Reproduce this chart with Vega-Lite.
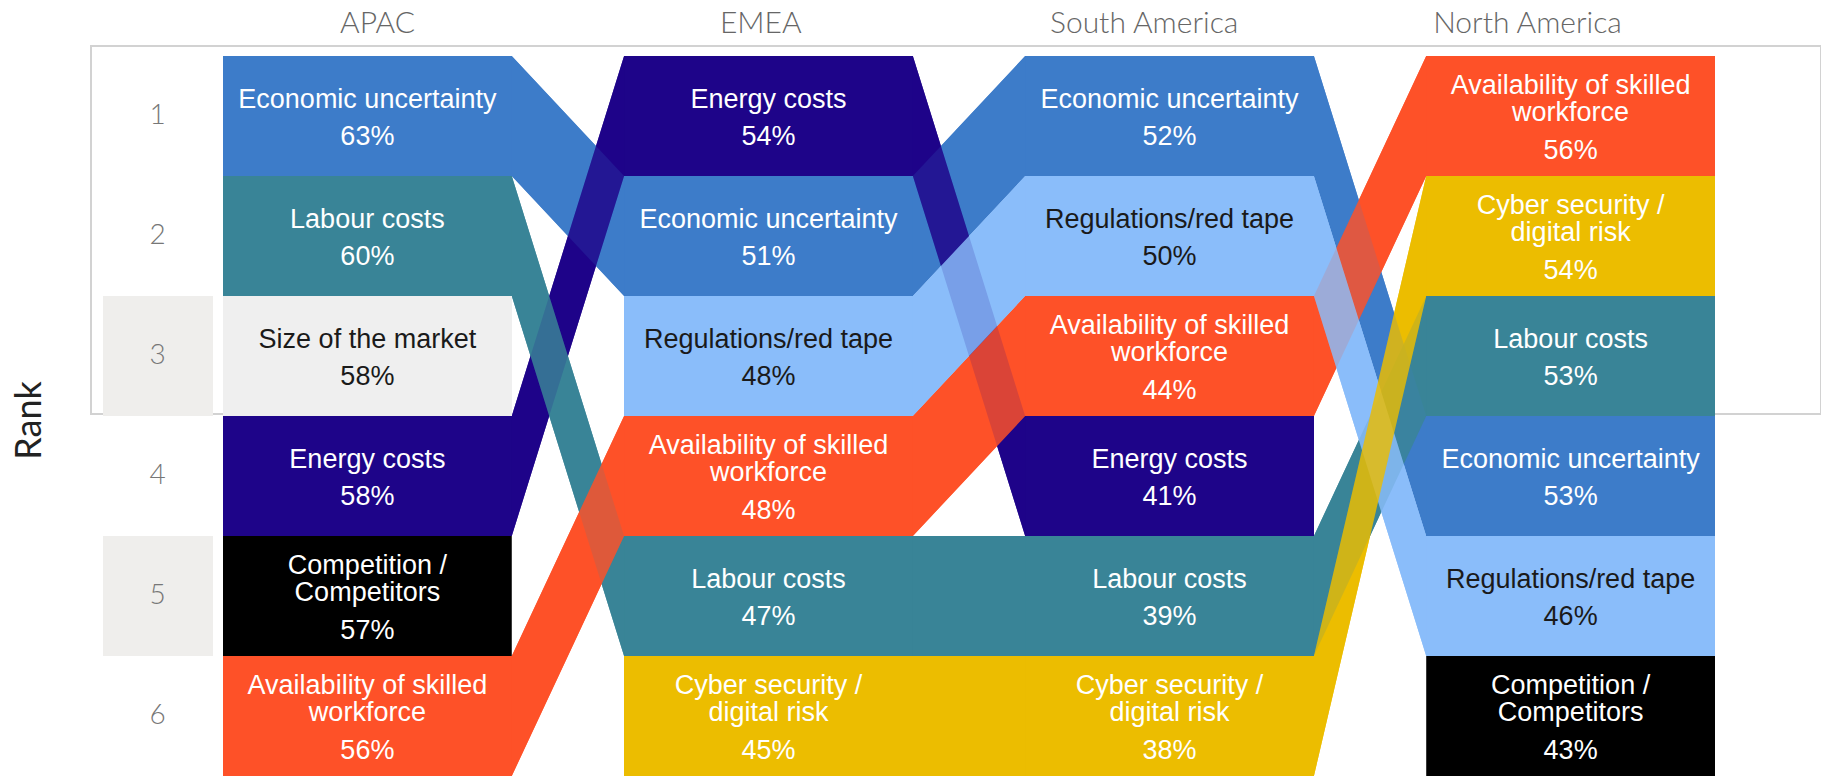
{
  "$schema": "https://vega.github.io/schema/vega-lite/v6.json",
  "width": 1730,
  "height": 368,
  "autosize": {"type": "none"},
  "padding": {"left": 91, "top": 46, "right": 0, "bottom": 362},
  "background": "#ffffff",
  "config": {
    "view": {"stroke": "#d2d2d2", "strokeWidth": 2},
    "axisY": {
      "offset": -66, "domain": false, "ticks": false, "tickSize": 0, "grid": false,
      "labelPadding": 0, "labelAlign": "center", "labelBaseline": "middle",
      "labelFont": "Lato", "labelFontWeight": 300, "labelFontSize": 28, "labelColor": "#777777",
      "titleFont": "Lato", "titleFontSize": 36, "titleFontWeight": "normal", "titleColor": "#222222",
      "titleX": -128, "titleY": 374, "titleAngle": 270, "titleAlign": "center", "titleBaseline": "middle",
      "zindex": 1
    }
  },
  "data": {
    "values": [
      {"region": "APAC", "Rank": 1, "factor": "Economic uncertainty", "pct": 0.63},
      {"region": "EMEA", "Rank": 2, "factor": "Economic uncertainty", "pct": 0.51},
      {"region": "South America", "Rank": 1, "factor": "Economic uncertainty", "pct": 0.52},
      {"region": "North America", "Rank": 4, "factor": "Economic uncertainty", "pct": 0.53},
      {"region": "APAC", "Rank": 4, "factor": "Energy costs", "pct": 0.58},
      {"region": "EMEA", "Rank": 1, "factor": "Energy costs", "pct": 0.54},
      {"region": "South America", "Rank": 4, "factor": "Energy costs", "pct": 0.41},
      {"region": "APAC", "Rank": 2, "factor": "Labour costs", "pct": 0.60},
      {"region": "EMEA", "Rank": 5, "factor": "Labour costs", "pct": 0.47},
      {"region": "South America", "Rank": 5, "factor": "Labour costs", "pct": 0.39},
      {"region": "North America", "Rank": 3, "factor": "Labour costs", "pct": 0.53},
      {"region": "APAC", "Rank": 6, "factor": "Availability of skilled\nworkforce", "pct": 0.56},
      {"region": "EMEA", "Rank": 4, "factor": "Availability of skilled\nworkforce", "pct": 0.48},
      {"region": "South America", "Rank": 3, "factor": "Availability of skilled\nworkforce", "pct": 0.44},
      {"region": "North America", "Rank": 1, "factor": "Availability of skilled\nworkforce", "pct": 0.56},
      {"region": "EMEA", "Rank": 3, "factor": "Regulations/red tape", "pct": 0.48},
      {"region": "South America", "Rank": 2, "factor": "Regulations/red tape", "pct": 0.50},
      {"region": "North America", "Rank": 5, "factor": "Regulations/red tape", "pct": 0.46},
      {"region": "EMEA", "Rank": 6, "factor": "Cyber security /\ndigital risk", "pct": 0.45},
      {"region": "South America", "Rank": 6, "factor": "Cyber security /\ndigital risk", "pct": 0.38},
      {"region": "North America", "Rank": 2, "factor": "Cyber security /\ndigital risk", "pct": 0.54},
      {"region": "APAC", "Rank": 3, "factor": "Size of the market", "pct": 0.58},
      {"region": "APAC", "Rank": 5, "factor": "Competition /\nCompetitors", "pct": 0.57},
      {"region": "North America", "Rank": 6, "factor": "Competition /\nCompetitors", "pct": 0.43}
    ]
  },
  "resolve": {"scale": {"x": "independent"}, "axis": {"x": "independent"}},
  "layer": [
    {
      "mark": {"type": "rule", "strokeWidth": 0, "opacity": 0},
      "encoding": {
        "x": {
          "field": "region", "type": "nominal",
          "scale": {"type": "point", "domain": ["APAC", "EMEA", "South America", "North America"], "range": [286, 1436], "padding": 0},
          "axis": {
            "orient": "top", "title": null, "domain": false, "ticks": false, "tickSize": 0, "grid": false,
            "labelPadding": 23, "labelBaseline": "middle", "labelAngle": 0, "labelLimit": 0,
            "labelFont": "Lato", "labelFontWeight": 300, "labelFontSize": 30, "labelColor": "#666666"
          }
        }
      }
    },
    {
      "transform": [{"filter": {"and": [{"field": "region", "equal": "APAC"}, {"field": "Rank", "oneOf": [3, 5]}]}}],
      "mark": {"type": "rect", "fill": "#efeeec"},
      "encoding": {
        "x": {"datum": "rank", "type": "nominal", "bandPosition": 0, "scale": {"type": "band", "range": [12, 122], "paddingInner": 0, "paddingOuter": 0}, "axis": null},
        "x2": {"datum": "rank", "bandPosition": 1},
        "y": {"field": "Rank", "type": "ordinal", "scale": {"type": "band", "domain": [1, 2, 3, 4, 5, 6], "range": [10, 730], "paddingInner": 0, "paddingOuter": 0}, "axis": {"zindex": 2}}
      }
    },
    {
      "layer": [
        {
          "data": {"values": [{}]},
          "mark": {"type": "rect", "fill": "#ffffff"},
          "encoding": {
            "x": {"datum": "APAC", "type": "nominal", "bandPosition": 0, "scale": {"type": "band", "domain": ["APAC", "EMEA", "South America", "North America"], "range": [132, 1624], "paddingInner": 0.28, "paddingOuter": 0}, "axis": null},
            "x2": {"datum": "North America", "bandPosition": 1},
            "y": {"datum": 1, "type": "ordinal", "bandPosition": 0, "scale": {"type": "band", "domain": [1, 2, 3, 4, 5, 6], "range": [10, 730], "paddingInner": 0, "paddingOuter": 0}},
            "y2": {"datum": 6, "bandPosition": 1}
          }
        },
        {
          "transform": [
            {"filter": {"not": {"field": "factor", "equal": "Competition /\nCompetitors"}}},
            {"fold": ["region", "factor"], "as": ["side", "fv"]}
          ],
          "mark": {"type": "area", "orient": "vertical", "opacity": 1, "interpolate": "linear"},
          "encoding": {
            "x": {"field": "region", "type": "nominal", "sort": ["APAC", "EMEA", "South America", "North America"], "scale": {"type": "band", "domain": ["APAC", "EMEA", "South America", "North America"], "range": [132, 1624], "paddingInner": 0.28, "paddingOuter": 0}, "axis": null},
            "xOffset": {"field": "side", "type": "nominal", "scale": {"type": "point", "domain": ["region", "factor"], "padding": 0}},
            "y": {"field": "Rank", "type": "ordinal", "bandPosition": 0, "scale": {"type": "band", "domain": [1, 2, 3, 4, 5, 6], "range": [10, 730], "paddingInner": 0, "paddingOuter": 0}},
            "y2": {"field": "Rank", "bandPosition": 1},
            "color": {
              "field": "factor", "type": "nominal", "legend": null,
              "scale": {
                "domain": ["Economic uncertainty", "Energy costs", "Labour costs", "Availability of skilled\nworkforce", "Regulations/red tape", "Cyber security /\ndigital risk", "Size of the market", "Competition /\nCompetitors"],
                "range": ["#3d7cc9", "#1e0489", "#398497", "#fe5128", "#8abdfa", "#ecbd00", "#efefef", "#000000"]
              }
            }
          }
        },
        {
          "transform": [
            {"filter": {"not": {"field": "factor", "equal": "Competition /\nCompetitors"}}},
            {"fold": ["region", "factor"], "as": ["side", "fv"]}
          ],
          "mark": {"type": "area", "orient": "vertical", "opacity": 0.8, "interpolate": "linear"},
          "encoding": {
            "x": {"field": "region", "type": "nominal", "sort": ["APAC", "EMEA", "South America", "North America"], "scale": {"type": "band", "domain": ["APAC", "EMEA", "South America", "North America"], "range": [132, 1624], "paddingInner": 0.28, "paddingOuter": 0}, "axis": null},
            "xOffset": {"field": "side", "type": "nominal", "scale": {"type": "point", "domain": ["region", "factor"], "padding": 0}},
            "y": {"field": "Rank", "type": "ordinal", "bandPosition": 0, "scale": {"type": "band", "domain": [1, 2, 3, 4, 5, 6], "range": [10, 730], "paddingInner": 0, "paddingOuter": 0}},
            "y2": {"field": "Rank", "bandPosition": 1},
            "color": {
              "field": "factor", "type": "nominal", "legend": null,
              "scale": {
                "domain": ["Economic uncertainty", "Energy costs", "Labour costs", "Availability of skilled\nworkforce", "Regulations/red tape", "Cyber security /\ndigital risk", "Size of the market", "Competition /\nCompetitors"],
                "range": ["#3d7cc9", "#1e0489", "#398497", "#fe5128", "#8abdfa", "#ecbd00", "#efefef", "#000000"]
              }
            }
          }
        },
        {
          "mark": {"type": "rect"},
          "encoding": {
            "x": {"field": "region", "type": "nominal", "bandPosition": 0, "sort": ["APAC", "EMEA", "South America", "North America"], "scale": {"type": "band", "domain": ["APAC", "EMEA", "South America", "North America"], "range": [132, 1624], "paddingInner": 0.28, "paddingOuter": 0}, "axis": null},
            "x2": {"field": "region", "bandPosition": 1},
            "y": {"field": "Rank", "type": "ordinal", "bandPosition": 0, "scale": {"type": "band", "domain": [1, 2, 3, 4, 5, 6], "range": [10, 730], "paddingInner": 0, "paddingOuter": 0}},
            "y2": {"field": "Rank", "bandPosition": 1},
            "color": {
              "field": "factor", "type": "nominal", "legend": null,
              "scale": {
                "domain": ["Economic uncertainty", "Energy costs", "Labour costs", "Availability of skilled\nworkforce", "Regulations/red tape", "Cyber security /\ndigital risk", "Size of the market", "Competition /\nCompetitors"],
                "range": ["#3d7cc9", "#1e0489", "#398497", "#fe5128", "#8abdfa", "#ecbd00", "#efefef", "#000000"]
              }
            }
          }
        },
        {
          "transform": [{"filter": "indexof(datum.factor, '\\n') < 0"}],
          "mark": {"type": "text", "font": "Liberation Sans", "fontSize": 27, "baseline": "middle", "align": "center", "dy": -16},
          "encoding": {
            "x": {"field": "region", "type": "nominal", "sort": ["APAC", "EMEA", "South America", "North America"], "scale": {"type": "band", "domain": ["APAC", "EMEA", "South America", "North America"], "range": [132, 1624], "paddingInner": 0.28, "paddingOuter": 0}, "axis": null},
            "y": {"field": "Rank", "type": "ordinal", "scale": {"type": "band", "domain": [1, 2, 3, 4, 5, 6], "range": [10, 730], "paddingInner": 0, "paddingOuter": 0}},
            "text": {"field": "factor", "type": "nominal"},
            "color": {"condition": {"test": {"field": "factor", "oneOf": ["Regulations/red tape", "Size of the market"]}, "value": "#1a1a1a"}, "value": "#ffffff"}
          }
        },
        {
          "transform": [{"filter": "indexof(datum.factor, '\\n') >= 0"}],
          "mark": {"type": "text", "font": "Liberation Sans", "fontSize": 27, "lineBreak": "\n", "lineHeight": 27, "baseline": "middle", "align": "center", "dy": -30},
          "encoding": {
            "x": {"field": "region", "type": "nominal", "sort": ["APAC", "EMEA", "South America", "North America"], "scale": {"type": "band", "domain": ["APAC", "EMEA", "South America", "North America"], "range": [132, 1624], "paddingInner": 0.28, "paddingOuter": 0}, "axis": null},
            "y": {"field": "Rank", "type": "ordinal", "scale": {"type": "band", "domain": [1, 2, 3, 4, 5, 6], "range": [10, 730], "paddingInner": 0, "paddingOuter": 0}},
            "text": {"field": "factor", "type": "nominal"},
            "color": {"value": "#ffffff"}
          }
        },
        {
          "transform": [{"filter": "indexof(datum.factor, '\\n') < 0"}],
          "mark": {"type": "text", "font": "Liberation Sans", "fontSize": 27, "baseline": "middle", "align": "center", "dy": 21},
          "encoding": {
            "x": {"field": "region", "type": "nominal", "sort": ["APAC", "EMEA", "South America", "North America"], "scale": {"type": "band", "domain": ["APAC", "EMEA", "South America", "North America"], "range": [132, 1624], "paddingInner": 0.28, "paddingOuter": 0}, "axis": null},
            "y": {"field": "Rank", "type": "ordinal", "scale": {"type": "band", "domain": [1, 2, 3, 4, 5, 6], "range": [10, 730], "paddingInner": 0, "paddingOuter": 0}},
            "text": {"field": "pct", "type": "quantitative", "format": ".0%"},
            "color": {"condition": {"test": {"field": "factor", "oneOf": ["Regulations/red tape", "Size of the market"]}, "value": "#1a1a1a"}, "value": "#ffffff"}
          }
        },
        {
          "transform": [{"filter": "indexof(datum.factor, '\\n') >= 0"}],
          "mark": {"type": "text", "font": "Liberation Sans", "fontSize": 27, "baseline": "middle", "align": "center", "dy": 35},
          "encoding": {
            "x": {"field": "region", "type": "nominal", "sort": ["APAC", "EMEA", "South America", "North America"], "scale": {"type": "band", "domain": ["APAC", "EMEA", "South America", "North America"], "range": [132, 1624], "paddingInner": 0.28, "paddingOuter": 0}, "axis": null},
            "y": {"field": "Rank", "type": "ordinal", "scale": {"type": "band", "domain": [1, 2, 3, 4, 5, 6], "range": [10, 730], "paddingInner": 0, "paddingOuter": 0}},
            "text": {"field": "pct", "type": "quantitative", "format": ".0%"},
            "color": {"value": "#ffffff"}
          }
        }
      ]
    }
  ]
}
